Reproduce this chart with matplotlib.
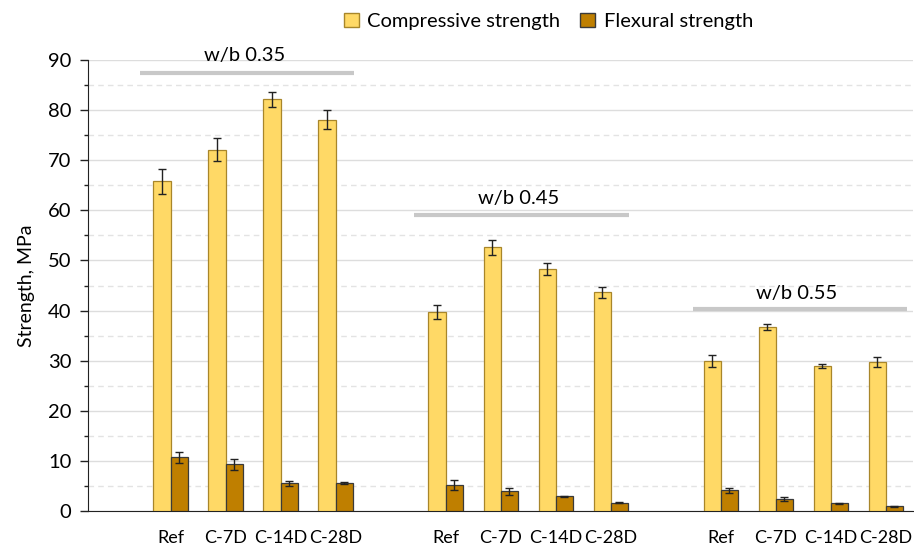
import numpy as np
import matplotlib
matplotlib.use('Agg')
import matplotlib.pyplot as plt
from matplotlib.patches import Patch
from matplotlib.ticker import MultipleLocator

plt.rcParams['font.family'] = ['Lato', 'DejaVu Sans']

# category slots (empty slots separate the w/b groups)
categories = ['', 'Ref', 'C-7D', 'C-14D', 'C-28D',
              '', 'Ref', 'C-7D', 'C-14D', 'C-28D',
              '', 'Ref', 'C-7D', 'C-14D', 'C-28D']
group_names = ['w/b 0.35', 'w/b 0.45', 'w/b 0.55']

compressive = [65.8, 72.1, 82.2, 78.1,
               39.7, 52.6, 48.2, 43.7,
               29.9, 36.8, 29.0, 29.7]
compressive_err = [2.5, 2.3, 1.5, 1.9,
                   1.4, 1.5, 1.2, 1.1,
                   1.2, 0.6, 0.4, 1.0]
flexural = [10.7, 9.3, 5.5, 5.5,
            5.1, 3.9, 2.9, 1.6,
            4.1, 2.4, 1.5, 0.9]
flexural_err = [1.1, 1.05, 0.45, 0.2,
                1.0, 0.7, 0.15, 0.1,
                0.45, 0.4, 0.1, 0.05]


def main():
    fig = plt.figure(figsize=(9.14, 5.48), dpi=100)
    ax = fig.add_axes([0.0963, 0.0675, 0.9027, 0.823])

    slots = np.arange(len(categories))
    x = np.array([i for i, c in enumerate(categories) if c != ''])
    w = 0.31

    ax.bar(x - w / 2, compressive, w, color='#FFD966', edgecolor='#A8862A',
           linewidth=0.9, zorder=3)
    ax.bar(x + w / 2, flexural, w, color='#BF7F00', edgecolor='#3A3A3A',
           linewidth=0.9, zorder=3)
    ax.errorbar(x - w / 2, compressive, yerr=compressive_err, fmt='none',
                ecolor='#222222', elinewidth=1, capsize=3, capthick=1, zorder=4)
    ax.errorbar(x + w / 2, flexural, yerr=flexural_err, fmt='none',
                ecolor='#222222', elinewidth=1, capsize=3, capthick=1, zorder=4)

    ax.set_xlim(-0.5, len(categories) - 0.5)
    ax.set_ylim(0, 90)
    ax.set_xticks(slots)
    ax.set_xticklabels(categories, fontsize=13)
    ax.tick_params(axis='x', length=0, pad=14)
    ax.yaxis.set_major_locator(MultipleLocator(10))
    ax.yaxis.set_minor_locator(MultipleLocator(5))
    ax.tick_params(axis='y', which='major', length=6, width=1, labelsize=14.5,
                   color='#222222', pad=6)
    ax.tick_params(axis='y', which='minor', length=3, width=1, color='#222222')
    ax.grid(axis='y', which='major', color='#DDDDDD', linewidth=1, zorder=0)
    ax.grid(axis='y', which='minor', color='#E3E3E3', linewidth=1,
            linestyle=(0, (4, 3)), zorder=0)
    ax.set_axisbelow(True)
    for side in ['top', 'right']:
        ax.spines[side].set_visible(False)
    ax.spines['left'].set_color('#222222')
    ax.spines['bottom'].set_color('#222222')
    ax.set_ylabel('Strength, MPa', fontsize=14, labelpad=9)

    # group labels with bars above each w/b series
    line_spans = [(0.45, 4.34), (5.43, 9.33), (10.49, 14.39)]
    line_y = [87.4, 59.0, 40.3]
    text_y = [90.9, 62.4, 43.5]
    for name, (x0, x1), ly, ty in zip(group_names, line_spans, line_y, text_y):
        ax.plot([x0, x1], [ly, ly], color='#C8C8C8', linewidth=3,
                solid_capstyle='butt', clip_on=False, zorder=2)
        ax.text((x0 + x1) / 2 - 0.05, ty, name, ha='center', va='center',
                fontsize=14.5, clip_on=False)

    handles = [Patch(facecolor='#FFD966', edgecolor='#A8862A', label='Compressive strength'),
               Patch(facecolor='#BF7F00', edgecolor='#3A3A3A', label='Flexural strength')]
    fig.legend(handles=handles, loc='upper center', bbox_to_anchor=(0.6, 1.01),
               ncol=2, frameon=False, fontsize=14.5, handlelength=0.75,
               handleheight=0.75, handletextpad=0.4, columnspacing=1.0)

    fig.savefig('out.png', dpi=100)


if __name__ == '__main__':
    main()
